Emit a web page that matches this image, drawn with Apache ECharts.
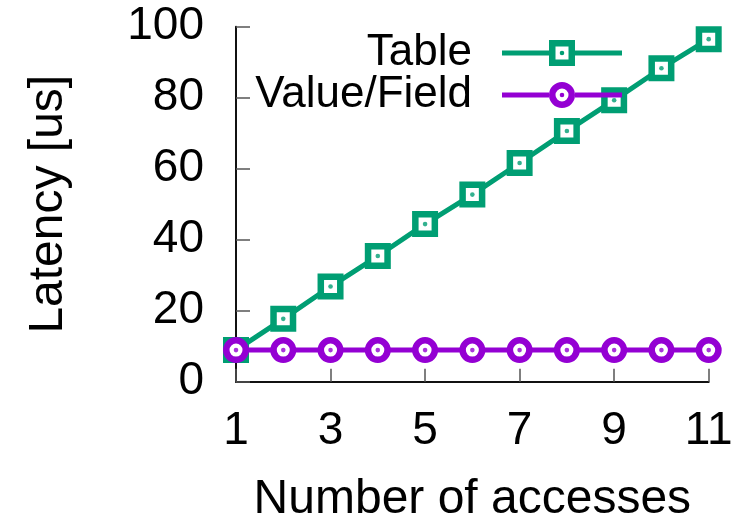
<!DOCTYPE html>
<html>
<head>
<meta charset="utf-8">
<script src="https://cdn.jsdelivr.net/npm/echarts@6/dist/echarts.min.js"></script>
<style>
  html, body { margin: 0; padding: 0; background: #fff; }
  #chart { width: 739px; height: 530px; }
</style>
</head>
<body>
<div id="chart"></div>
<script>
// Latency per number of accesses
const accesses = [1, 2, 3, 4, 5, 6, 7, 8, 9, 10, 11];
const tableLatency = [8.9, 17.7, 26.8, 35.4, 44.4, 52.7, 61.6, 70.6, 79.3, 88.3, 96.5];
const valueFieldLatency = [8.9, 8.9, 8.9, 8.9, 8.9, 8.9, 8.9, 8.9, 8.9, 8.9, 8.9];
const xTickValues = [1, 3, 5, 7, 9, 11];
const yTickValues = [0, 20, 40, 60, 80, 100];
const seriesNames = ['Table', 'Value/Field'];

const GREEN = '#009e73';
const PURPLE = '#9400d3';
const FONT = '"Liberation Sans", Arial, Helvetica, sans-serif';

const pairs = (ys) => accesses.map((x, i) => [x, ys[i]]);

// Legend keys: line segment + hollow marker with a centre dot (nonzero fill, inner contour reversed)
const DOT = 'M60 10.7A2.3 2.3 0 1 1 60 15.3A2.3 2.3 0 1 1 60 10.7Z';
const SEGMENTS = 'M0 10.5L47 10.5L47 15.5L0 15.5Z M73 10.5L120 10.5L120 15.5L73 15.5Z ';
const squareKey = 'path://' + SEGMENTS +
  'M47 0L73 0L73 26L47 26Z M53.5 6.5L53.5 19.5L66.5 19.5L66.5 6.5Z ' + DOT;
const circleKey = 'path://' + SEGMENTS +
  'M47 13A13 13 0 1 1 73 13A13 13 0 1 1 47 13Z M53.5 13A6.5 6.5 0 1 0 66.5 13A6.5 6.5 0 1 0 53.5 13Z ' + DOT;

const chart = echarts.init(document.getElementById('chart'), null, { renderer: 'canvas' });

chart.setOption({
  animation: false,
  backgroundColor: '#fff',
  textStyle: { fontFamily: FONT, color: '#000' },
  grid: {
    left: 236, right: 30.3, top: 26.7, bottom: 148.3,
    containLabel: false, outerBoundsMode: 'none'
  },
  legend: {
    orient: 'vertical',
    align: 'right',
    right: 112,
    top: 26,
    itemWidth: 120,
    itemHeight: 26,
    itemGap: -2,
    selectedMode: false,
    textStyle: { fontSize: 44, color: '#000', fontFamily: FONT, padding: [0, 25, 0, 0] },
    data: [
      { name: seriesNames[0], icon: squareKey, itemStyle: { color: GREEN, borderWidth: 0 } },
      { name: seriesNames[1], icon: circleKey, itemStyle: { color: PURPLE, borderWidth: 0 } }
    ]
  },
  xAxis: {
    type: 'value',
    min: 1, max: 11,
    name: 'Number of accesses',
    nameLocation: 'middle',
    nameGap: 94,
    nameMoveOverlap: false,
    nameTextStyle: { fontSize: 48, color: '#000', fontFamily: FONT },
    splitLine: { show: false },
    axisLine: { show: true, onZero: false, lineStyle: { color: '#111', width: 2 } },
    axisTick: { show: true, inside: true, length: 13, customValues: xTickValues,
      lineStyle: { color: '#555', width: 1.5 } },
    axisLabel: { show: true, margin: 27, fontSize: 46, color: '#000', fontFamily: FONT,
      customValues: xTickValues }
  },
  yAxis: {
    type: 'value',
    min: 0, max: 100, interval: 20,
    name: 'Latency [us]',
    nameLocation: 'middle',
    nameGap: 163,
    nameMoveOverlap: false,
    nameTextStyle: { fontSize: 48, color: '#000', fontFamily: FONT },
    splitLine: { show: false },
    axisLine: { show: true, onZero: false, lineStyle: { color: '#111', width: 2 } },
    axisTick: { show: true, inside: true, length: 14, lineStyle: { color: '#555', width: 1.5 } },
    axisLabel: { show: true, margin: 32, fontSize: 46, color: '#000', fontFamily: FONT,
      customValues: yTickValues }
  },
  series: [
    {
      name: seriesNames[0],
      type: 'line',
      data: pairs(tableLatency),
      z: 2,
      symbol: 'rect',
      symbolSize: 19.5,
      showAllSymbol: true,
      lineStyle: { color: GREEN, width: 5 },
      itemStyle: { color: '#fff', borderColor: GREEN, borderWidth: 6.5 },
      emphasis: { disabled: true }
    },
    {
      name: 'Table dots',
      type: 'scatter',
      data: pairs(tableLatency),
      z: 3,
      symbol: 'circle',
      symbolSize: 4.6,
      silent: true,
      itemStyle: { color: GREEN }
    },
    {
      name: seriesNames[1],
      type: 'line',
      data: pairs(valueFieldLatency),
      z: 4,
      symbol: 'circle',
      symbolSize: 19.5,
      showAllSymbol: true,
      lineStyle: { color: PURPLE, width: 5 },
      itemStyle: { color: '#fff', borderColor: PURPLE, borderWidth: 6.5 },
      emphasis: { disabled: true }
    },
    {
      name: 'Value/Field dots',
      type: 'scatter',
      data: pairs(valueFieldLatency),
      z: 5,
      symbol: 'circle',
      symbolSize: 4.6,
      silent: true,
      itemStyle: { color: PURPLE }
    }
  ]
});
</script>
</body>
</html>
